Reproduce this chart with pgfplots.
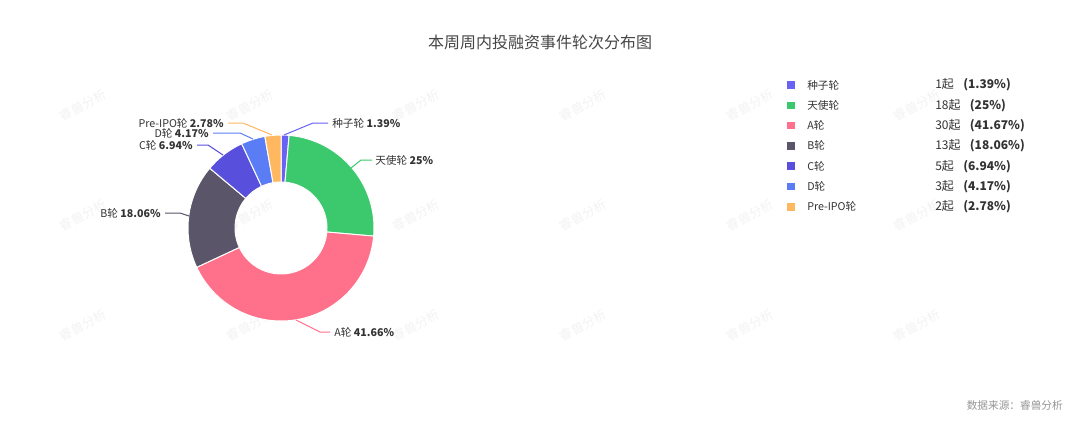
\documentclass[border=0pt]{standalone}
\usepackage{pgfplots}
\pgfplotsset{compat=1.18}
\usepackage{pgfplotstable}
\usepackage{fontspec}
\setmainfont{Noto Sans CJK SC}

\definecolor{c0}{RGB}{104,98,245}
\definecolor{c1}{RGB}{60,201,110}
\definecolor{c2}{RGB}{255,112,138}
\definecolor{c3}{RGB}{90,85,105}
\definecolor{c4}{RGB}{88,80,220}
\definecolor{c5}{RGB}{90,125,245}
\definecolor{c6}{RGB}{255,184,96}
\definecolor{txt}{RGB}{51,51,51}
\definecolor{ttl}{RGB}{70,70,70}
\definecolor{src}{RGB}{150,150,150}
\definecolor{wm}{RGB}{243,243,243}

\pgfplotstableread{
name count
seed 1
angel 18
A 30
B 13
C 5
D 3
PreIPO 2
}\roundtable

\newcommand\lbl{\fontsize{8pt}{10pt}\selectfont}
\newcommand\leg{\fontsize{8pt}{10pt}\selectfont}
\newcommand\cnt{\fontsize{9pt}{11pt}\selectfont}
\newcommand\donutslice[3]{%
  \fill[#3, draw=white, line width=0.75pt]
    ([shift={(#1:69.75pt)}]axis cs:281,228)
    arc[start angle=#1, end angle=#2, radius=69.75pt]
    -- ([shift={(#2:34.5pt)}]axis cs:281,228)
    arc[start angle=#2, end angle=#1, radius=34.5pt] -- cycle;}

\begin{document}
\begin{tikzpicture}
\pgfplotstablegetrowsof{\roundtable}
\pgfmathtruncatemacro\nrows{\pgfplotsretval-1}
\gdef\total{0}
\foreach \i in {0,...,\nrows}{%
  \pgfplotstablegetelem{\i}{count}\of\roundtable
  \pgfmathsetmacro\t{\total+\pgfplotsretval}\xdef\total{\t}}
\gdef\cum{0}
\foreach \i in {0,...,\nrows}{%
  \pgfplotstablegetelem{\i}{count}\of\roundtable
  \pgfmathsetmacro\sa{90-\cum/\total*360}
  \pgfmathsetmacro\nc{\cum+\pgfplotsretval}
  \pgfmathsetmacro\ea{90-\nc/\total*360}
  \expandafter\xdef\csname sa\i\endcsname{\sa}
  \expandafter\xdef\csname ea\i\endcsname{\ea}
  \xdef\cum{\nc}}
\begin{axis}[x=0.75pt, y=0.75pt, xmin=0, xmax=1080, ymin=0, ymax=422,
  y dir=reverse, hide axis, clip=false]
\fill[white] (axis cs:0,0) rectangle (axis cs:1080,422);
% watermarks
\pgfplotsinvokeforeach{83,250,416,583,750,917}{%
  \node[wm, rotate=28, font=\fontsize{9.5pt}{11pt}\selectfont] at (axis cs:#1,105) {睿兽分析};
  \node[wm, rotate=28, font=\fontsize{9.5pt}{11pt}\selectfont] at (axis cs:#1,215) {睿兽分析};
  \node[wm, rotate=28, font=\fontsize{9.5pt}{11pt}\selectfont] at (axis cs:#1,325) {睿兽分析};
}
% donut
\pgfplotsinvokeforeach{0,...,6}{%
  \edef\doslice{\noexpand\donutslice{\csname sa#1\endcsname}{\csname ea#1\endcsname}{c#1}}\doslice
}
% leader lines
\draw[c0, line width=0.75pt] (axis cs:284,135) -- (axis cs:313,123) -- (axis cs:328,123);
\draw[c1, line width=0.75pt] (axis cs:351,168) -- (axis cs:361,160) -- (axis cs:372,160);
\draw[c2, line width=0.75pt] (axis cs:296,320) -- (axis cs:320,332) -- (axis cs:330,332);
\draw[c3, line width=0.75pt] (axis cs:189,216) -- (axis cs:180,213) -- (axis cs:165,213);
\draw[c4, line width=0.75pt] (axis cs:223,155) -- (axis cs:208,145) -- (axis cs:197,145);
\draw[c5, line width=0.75pt] (axis cs:253,139) -- (axis cs:240,133) -- (axis cs:213,133);
\draw[c6, line width=0.75pt] (axis cs:272,135) -- (axis cs:243,123) -- (axis cs:228,123);
% labels
\node[anchor=west, inner sep=0, txt, font=\lbl] at (axis cs:332,123) {种子轮\ \textbf{1.39\%}};
\node[anchor=west, inner sep=0, txt, font=\lbl] at (axis cs:375,160) {天使轮\ \textbf{25\%}};
\node[anchor=west, inner sep=0, txt, font=\lbl] at (axis cs:334,332) {A轮\ \textbf{41.66\%}};
\node[anchor=east, inner sep=0, txt, font=\lbl] at (axis cs:161,213) {B轮\ \textbf{18.06\%}};
\node[anchor=east, inner sep=0, txt, font=\lbl] at (axis cs:193,145) {C轮\ \textbf{6.94\%}};
\node[anchor=east, inner sep=0, txt, font=\lbl] at (axis cs:209,133) {D轮\ \textbf{4.17\%}};
\node[anchor=east, inner sep=0, txt, font=\lbl] at (axis cs:224,123) {Pre-IPO轮\ \textbf{2.78\%}};
% title
\node[ttl, font=\fontsize{12pt}{14pt}\selectfont] at (axis cs:540,42) {本周周内投融资事件轮次分布图};
% legend
\pgfplotsinvokeforeach{0,...,6}{%
  \fill[c#1] (axis cs:787,{85+20.3*#1-3.8}) rectangle (axis cs:795,{85+20.3*#1+3.8});
}
\node[anchor=west, inner sep=0, txt, font=\leg] at (axis cs:807,85) {种子轮};
\node[anchor=west, inner sep=0, txt, font=\leg] at (axis cs:807,105.3) {天使轮};
\node[anchor=west, inner sep=0, txt, font=\leg] at (axis cs:807,125.6) {A轮};
\node[anchor=west, inner sep=0, txt, font=\leg] at (axis cs:807,145.9) {B轮};
\node[anchor=west, inner sep=0, txt, font=\leg] at (axis cs:807,166.2) {C轮};
\node[anchor=west, inner sep=0, txt, font=\leg] at (axis cs:807,186.5) {D轮};
\node[anchor=west, inner sep=0, txt, font=\leg] at (axis cs:807,206.8) {Pre-IPO轮};
\node[anchor=west, inner sep=0, txt, font=\cnt] at (axis cs:935,85) {1起\hspace{7pt}\textbf{(1.39\%)}};
\node[anchor=west, inner sep=0, txt, font=\cnt] at (axis cs:935,105.3) {18起\hspace{7pt}\textbf{(25\%)}};
\node[anchor=west, inner sep=0, txt, font=\cnt] at (axis cs:935,125.6) {30起\hspace{7pt}\textbf{(41.67\%)}};
\node[anchor=west, inner sep=0, txt, font=\cnt] at (axis cs:935,145.9) {13起\hspace{7pt}\textbf{(18.06\%)}};
\node[anchor=west, inner sep=0, txt, font=\cnt] at (axis cs:935,166.2) {5起\hspace{7pt}\textbf{(6.94\%)}};
\node[anchor=west, inner sep=0, txt, font=\cnt] at (axis cs:935,186.5) {3起\hspace{7pt}\textbf{(4.17\%)}};
\node[anchor=west, inner sep=0, txt, font=\cnt] at (axis cs:935,206.8) {2起\hspace{7pt}\textbf{(2.78\%)}};
% source
\node[anchor=east, inner sep=0, src, font=\fontsize{8pt}{10pt}\selectfont] at (axis cs:1063,405) {数据来源：睿兽分析};
\end{axis}
\end{tikzpicture}
\end{document}
